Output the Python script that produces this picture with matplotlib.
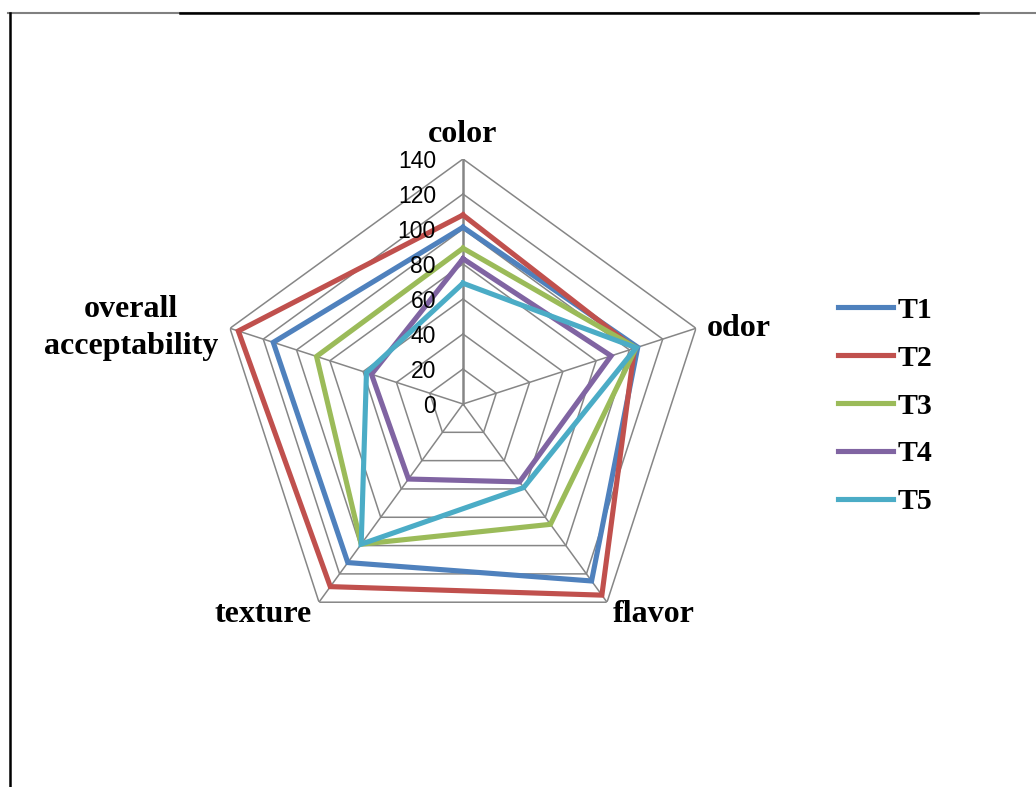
import numpy as np
import matplotlib
matplotlib.use("Agg")
import matplotlib.pyplot as plt
from matplotlib.lines import Line2D

# data
categories = ["color", "odor", "flavor", "texture", "overall\nacceptability"]
series_names = ["T1", "T2", "T3", "T4", "T5"]
T1 = [101, 105, 125, 112, 114]
T2 = [108, 103, 135, 129, 135]
T3 = [89, 104, 85, 99, 88]
T4 = [83, 89, 55, 53, 55]
T5 = [69, 104, 59, 99, 58]
rings = [20, 40, 60, 80, 100, 120, 140]
tick_labels = ["0", "20", "40", "60", "80", "100", "120", "140"]

colors = ["#4F81BD", "#C0504D", "#9BBB59", "#8064A2", "#4BACC6"]
grid_col = "#868686"

W, H = 1036, 787
fig = plt.figure(figsize=(W / 100, H / 100), dpi=100)

# center (463,404) px, radius 245 px
cx, cy, R = 463, 404, 245
ax = fig.add_axes([(cx - R) / W, 1 - (cy + R) / H, 2 * R / W, 2 * R / H], projection="polar")
ax.set_theta_offset(np.pi / 2)
ax.set_theta_direction(-1)
ax.set_ylim(0, 140)
ax.axis("off")

n = len(categories)
theta = np.linspace(0, 2 * np.pi, n, endpoint=False)
th_closed = np.append(theta, theta[0])

# polygon grid
for r in rings:
    ax.plot(th_closed, [r] * (n + 1), color=grid_col, lw=1.1, zorder=1)
for i, t in enumerate(theta):
    ax.plot([t, t], [0, 140], color=grid_col, lw=1.8 if i == 0 else 1.1, zorder=1)

data = [T1, T2, T3, T4, T5]
for name, vals, c in zip(series_names, data, colors):
    v = np.append(vals, vals[0])
    ax.plot(th_closed, v, color=c, lw=3.7, label=name, zorder=3, solid_joinstyle="miter")

# radial tick labels
for i, lab in enumerate(tick_labels):
    ax.annotate(lab, xy=(0, i * 20), xytext=(-19.5, -1.5), textcoords="offset points",
                ha="right", va="center", fontsize=16.5, family="Liberation Sans", zorder=4)

# category labels
lab_font = dict(family="Liberation Serif", fontweight="bold", fontsize=23)
offsets = [((0, 7), "center", "bottom"),
           ((8, 0), "left", "center"),
           ((4, -8.5), "left", "center"),
           ((-5.5, -8.5), "right", "center"),
           ((-8.5, 0), "right", "center")]
for t, lab, (off, ha, va) in zip(theta, categories, offsets):
    ax.annotate(lab, xy=(t, 140), xytext=off, textcoords="offset points",
                ha=ha, va=va, multialignment="center", linespacing=1.35,
                annotation_clip=False, **lab_font)

leg = fig.legend(loc="center left", bbox_to_anchor=(838 / W, 1 - 406 / H),
                 frameon=False, borderpad=0, borderaxespad=0,
                 handlelength=1.85, handletextpad=0.15, labelspacing=0.7,
                 prop=dict(family="Liberation Serif", weight="bold", size=21.5))

# chart frame (partially visible)
fig.add_artist(Line2D([8 / W, 1], [1 - 13 / H] * 2, transform=fig.transFigure, color="#808080", lw=1.5))
fig.add_artist(Line2D([180 / W, 978 / W], [1 - 13 / H] * 2, transform=fig.transFigure, color="black", lw=1.8))
fig.add_artist(Line2D([10 / W] * 2, [0, 1 - 13 / H], transform=fig.transFigure, color="black", lw=1.8))

fig.savefig("out.png", dpi=100)
